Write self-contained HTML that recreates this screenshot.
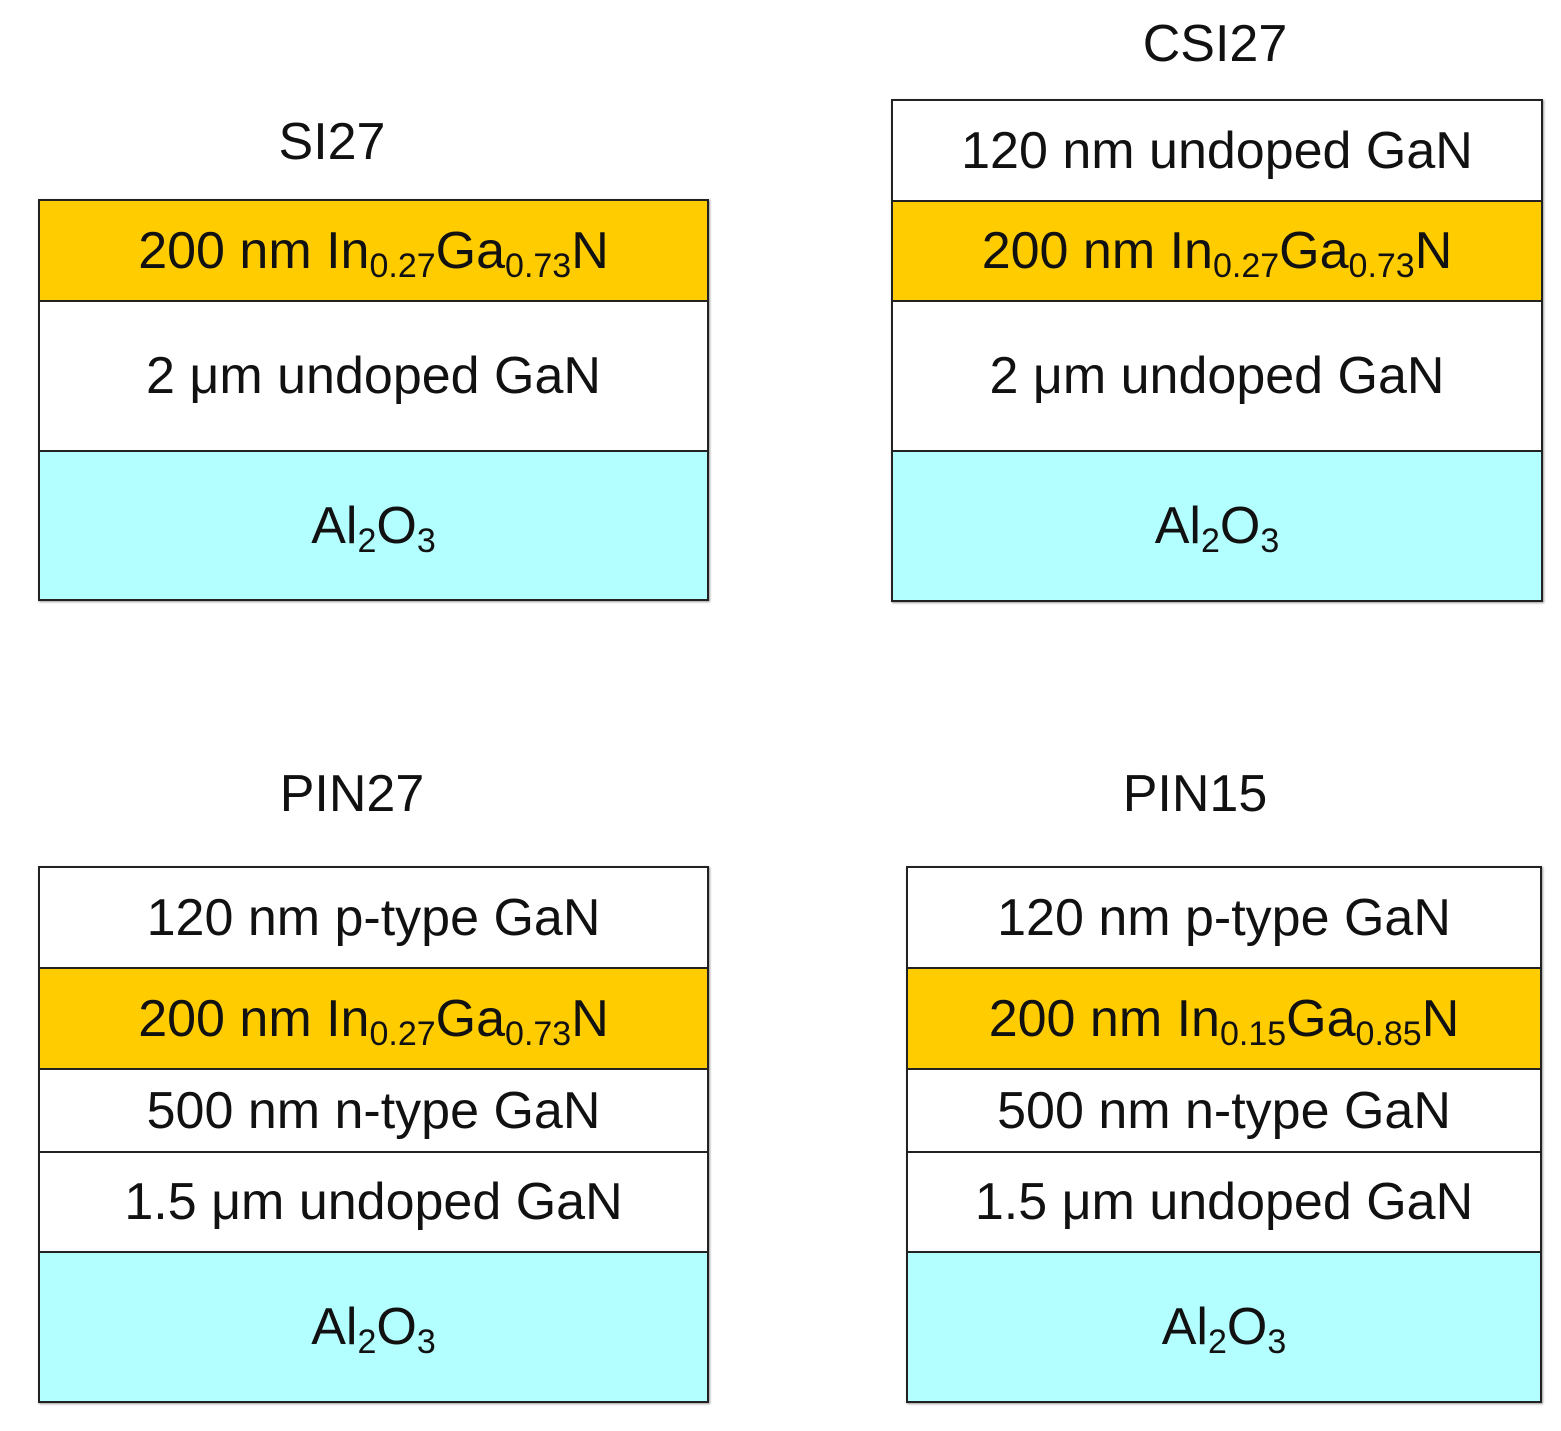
<!DOCTYPE html>
<html><head><style>
body{margin:0;width:1561px;height:1431px;background:#fff;position:relative;font-family:"Liberation Sans",Arial,sans-serif;overflow:hidden}
.t{position:absolute;font-size:52px;color:#111;transform:translateX(-50%);white-space:nowrap;line-height:1}
.box{position:absolute;border:2px solid #222;box-sizing:border-box;box-shadow:1px 1px 2px #999}
.l{position:absolute;left:0;right:0;display:flex;align-items:center;justify-content:center;font-size:52px;color:#111;border-bottom:2px solid #222;box-sizing:border-box;white-space:nowrap}
.l:last-child{border-bottom:none}
.y{background:#ffcc00}.c{background:#b3ffff}.w{background:#fff}
.s{font-size:34px;position:relative;top:9px}
</style></head><body>
<div class="t" style="left:332px;top:116px">SI27</div>
<div class="box" style="left:38px;top:199px;width:671px;height:402px">
<div class="l y" style="top:0;height:101px"><span>200 nm In<span class="s">0.27</span>Ga<span class="s">0.73</span>N</span></div>
<div class="l w" style="top:101px;height:150px">2 μm undoped GaN</div>
<div class="l c" style="top:251px;height:147px"><span>Al<span class="s">2</span>O<span class="s">3</span></span></div>
</div>

<div class="t" style="left:1215px;top:18px">CSI27</div>
<div class="box" style="left:891px;top:99px;width:652px;height:503px">
<div class="l w" style="top:0;height:101px">120 nm undoped GaN</div>
<div class="l y" style="top:101px;height:100px"><span>200 nm In<span class="s">0.27</span>Ga<span class="s">0.73</span>N</span></div>
<div class="l w" style="top:201px;height:150px">2 μm undoped GaN</div>
<div class="l c" style="top:351px;height:148px"><span>Al<span class="s">2</span>O<span class="s">3</span></span></div>
</div>

<div class="t" style="left:352px;top:768px">PIN27</div>
<div class="box" style="left:38px;top:866px;width:671px;height:537px">
<div class="l w" style="top:0;height:101px">120 nm p-type GaN</div>
<div class="l y" style="top:101px;height:101px"><span>200 nm In<span class="s">0.27</span>Ga<span class="s">0.73</span>N</span></div>
<div class="l w" style="top:202px;height:83px">500 nm n-type GaN</div>
<div class="l w" style="top:285px;height:100px">1.5 μm undoped GaN</div>
<div class="l c" style="top:385px;height:148px"><span>Al<span class="s">2</span>O<span class="s">3</span></span></div>
</div>

<div class="t" style="left:1195px;top:768px">PIN15</div>
<div class="box" style="left:906px;top:866px;width:636px;height:537px">
<div class="l w" style="top:0;height:101px">120 nm p-type GaN</div>
<div class="l y" style="top:101px;height:101px"><span>200 nm In<span class="s">0.15</span>Ga<span class="s">0.85</span>N</span></div>
<div class="l w" style="top:202px;height:83px">500 nm n-type GaN</div>
<div class="l w" style="top:285px;height:100px">1.5 μm undoped GaN</div>
<div class="l c" style="top:385px;height:148px"><span>Al<span class="s">2</span>O<span class="s">3</span></span></div>
</div>
</body></html>
